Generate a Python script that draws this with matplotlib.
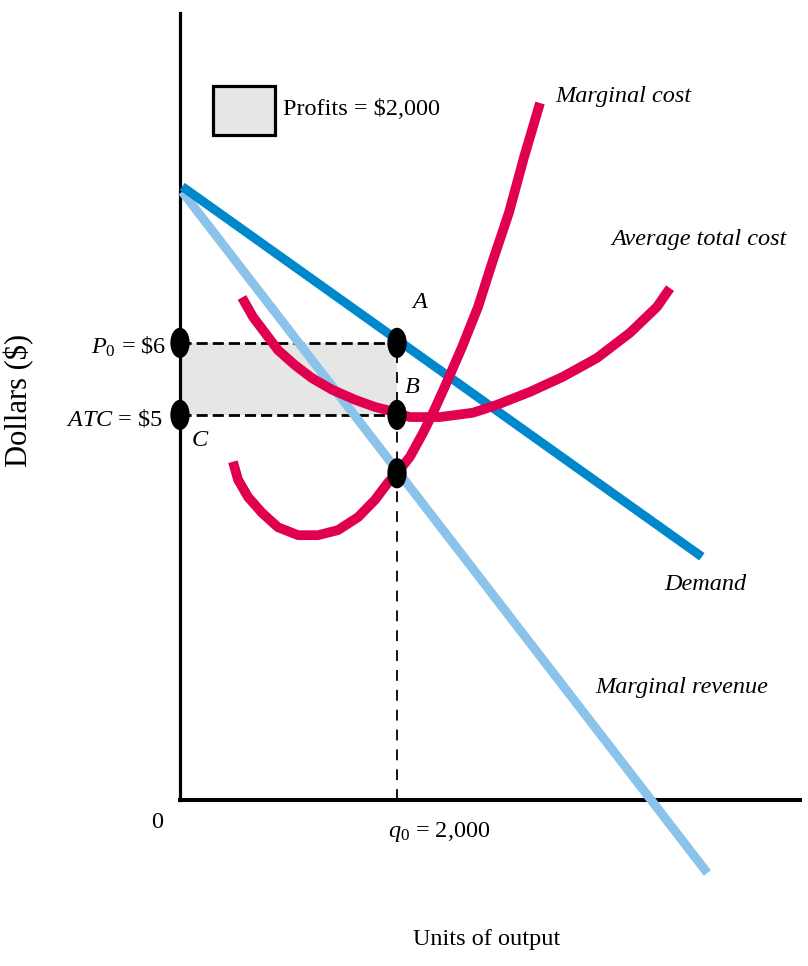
import numpy as np
import matplotlib
matplotlib.use("Agg")
import matplotlib.pyplot as plt
from matplotlib.patches import Ellipse, Rectangle

plt.rcParams['font.family'] = ['Liberation Serif', 'DejaVu Serif']
plt.rcParams['mathtext.fontset'] = 'custom'
plt.rcParams['mathtext.rm'] = 'Liberation Serif'
plt.rcParams['mathtext.it'] = 'Liberation Serif:italic'

# values (units of output, dollars)
q_demand = [20, 4810]
p_demand = [8.17, 3.03]

q_mr = [20, 4860]
p_mr = [8.10, -1.36]

q_mc = [488, 535, 627, 756, 903, 1088, 1272, 1456, 1641, 1797, 1917, 2000, 2120, 2240,
        2332, 2440, 2599, 2747, 2885, 3032, 3171, 3318]
p_mc = [4.35, 4.10, 3.86, 3.64, 3.44, 3.33, 3.33, 3.40, 3.58, 3.82, 4.06, 4.19, 4.42, 4.75,
        5.03, 5.39, 5.94, 6.50, 7.15, 7.81, 8.58, 9.33]

q_atc = [571, 673, 783, 903, 1060, 1217, 1401, 1613, 1797, 1954, 2000, 2120, 2396, 2700,
         2922, 3226, 3530, 3843, 4147, 4396, 4516]
p_atc = [6.63, 6.36, 6.14, 5.90, 5.69, 5.51, 5.35, 5.21, 5.11, 5.05, 5.02, 4.97, 4.97, 5.03,
         5.14, 5.32, 5.53, 5.79, 6.14, 6.50, 6.76]

q0 = 2000
p0 = 6
atc0 = 5

red = '#e0004f'
blue = '#0088cc'
lightblue = '#8cc3ea'

fig = plt.figure(figsize=(8.08, 9.66), dpi=100)
ax = fig.add_axes([180 / 808, 166 / 966, 620 / 808, 787 / 966])
ax.set_xlim(0, 5714)
ax.set_ylim(-0.347, 10.58)
for s in ['top', 'right']:
    ax.spines[s].set_visible(False)
ax.spines['left'].set_linewidth(2.3)
ax.spines['bottom'].set_linewidth(2.9)
ax.set_xticks([])
ax.set_yticks([])

# profit rectangle
ax.fill_between([0, q0], [atc0, atc0], [p0, p0], color='#e6e6e6', lw=0, zorder=1)

# dashed guides
ax.plot([0, q0], [p0, p0], color='black', lw=2.0, ls=(0, (4, 1.8)), zorder=2)
ax.plot([0, q0], [atc0, atc0], color='black', lw=2.0, ls=(0, (4, 1.8)), zorder=2)
ax.plot([q0, q0], [ax.get_ylim()[0], p0], color='black', lw=1.3, ls=(0, (6, 5)), zorder=2)

# curves
ax.plot(q_mr, p_mr, color=lightblue, lw=6.5, solid_capstyle='butt', clip_on=False, zorder=3)
ax.plot(q_demand, p_demand, color=blue, lw=6.5, solid_capstyle='butt', clip_on=False, zorder=4)
ax.plot(q_atc, p_atc, color=red, lw=7, solid_capstyle='butt', solid_joinstyle='round', zorder=5)
ax.plot(q_mc, p_mc, color=red, lw=7, solid_capstyle='butt', solid_joinstyle='round', zorder=6)

# dots
mc_q0 = np.interp(q0, q_mc, p_mc)
for (x, y) in [(0, p0), (0, atc0), (q0, p0), (q0, atc0), (q0, mc_q0)]:
    ax.add_patch(Ellipse((x, y), 165, 0.40, color='black', zorder=8, clip_on=False))

fs = 17.5
# curve labels
ax.text(4083, 9.42, 'Marginal cost', style='italic', fontsize=fs, ha='center', va='center')
ax.text(4783, 7.43, 'Average total cost', style='italic', fontsize=fs, ha='center', va='center')
ax.text(4839, 2.64, 'Demand', style='italic', fontsize=fs, ha='center', va='center')
ax.text(4627, 1.21, 'Marginal revenue', style='italic', fontsize=fs, ha='center', va='center')

ax.text(2212, 6.56, 'A', style='italic', fontsize=fs, ha='center', va='center')
ax.text(2138, 5.375, 'B', style='italic', fontsize=fs, ha='center', va='center')
ax.text(184, 4.65, 'C', style='italic', fontsize=fs, ha='center', va='center')

# axis annotations
ax.text(-129, 5.94, r'$P_0$ = \$6', fontsize=fs, ha='right', va='center', clip_on=False)
ax.text(-157, 4.93, r'$ATC$ = \$5', fontsize=fs, ha='right', va='center', clip_on=False)
ax.text(-212, -0.66, '0', fontsize=fs, ha='center', va='center')
ax.text(1917, -0.79, r'$q_0$ = 2,000', fontsize=fs, ha='left', va='center')
ax.text(2829, -2.29, 'Units of output', fontsize=fs, ha='center', va='center')
ax.text(-1480, 5.2, 'Dollars (\\$)', fontsize=22, rotation=90, ha='center', va='center')

# legend
ax.add_patch(Rectangle((304, 8.89), 572, 0.67, facecolor='#e6e6e6', edgecolor='black', lw=2.3, zorder=7))
ax.text(949, 9.24, 'Profits = $2,000', fontsize=fs, ha='left', va='center')

fig.savefig('out.png', dpi=100)
